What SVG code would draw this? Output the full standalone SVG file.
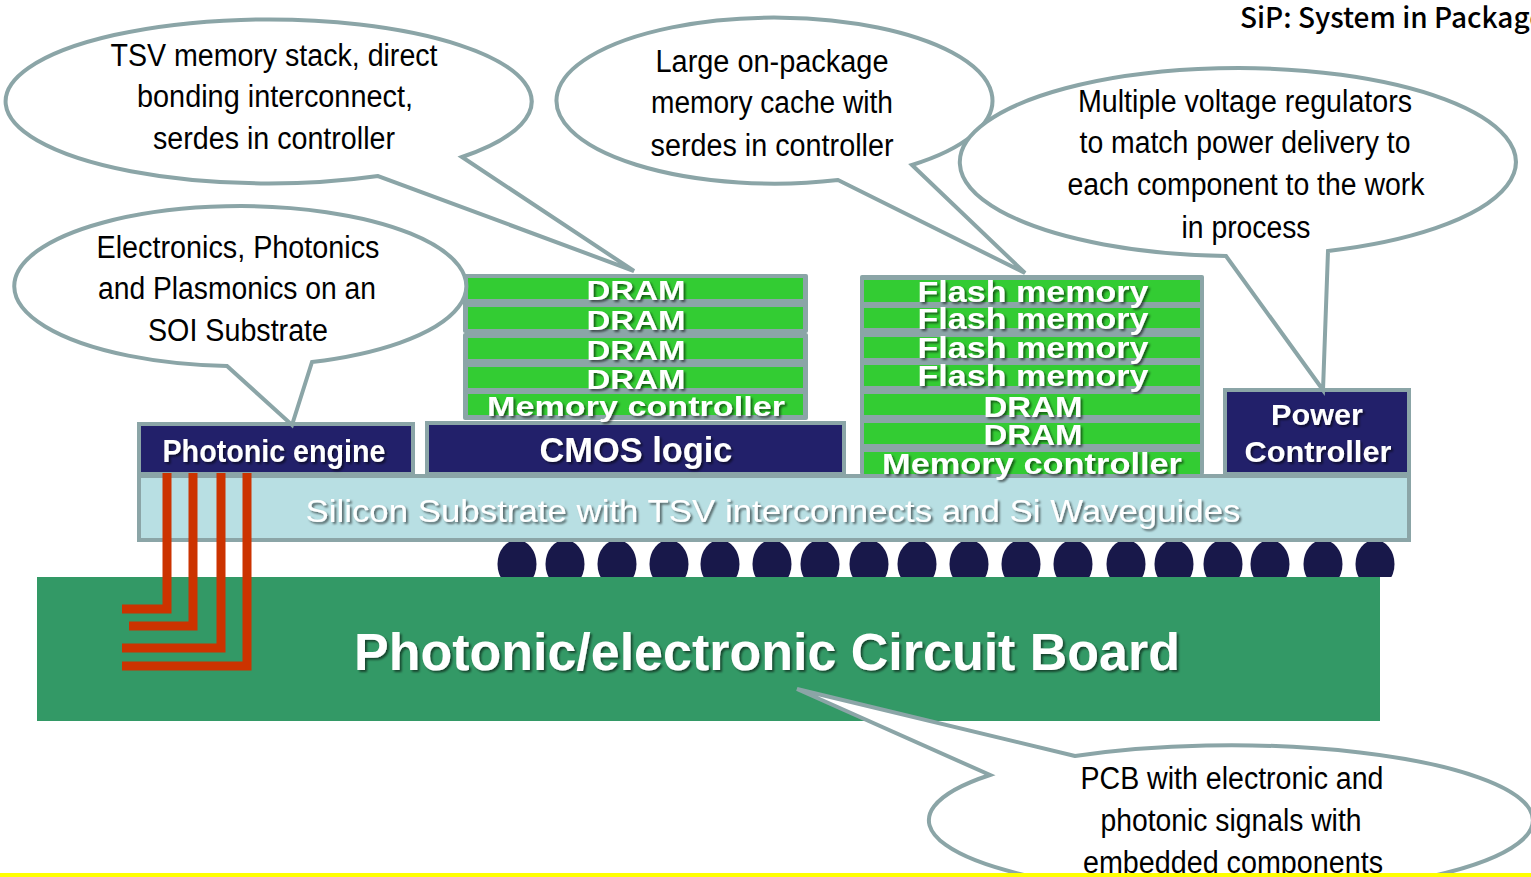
<svg xmlns="http://www.w3.org/2000/svg" width="1531" height="877" viewBox="0 0 1531 877">
<style>
.bub{fill:#fff;stroke:#8BA5A7;stroke-width:4;stroke-linejoin:miter}
.ct{font-family:"Liberation Sans Narrow","Liberation Sans",Arial,sans-serif;font-size:31px;fill:#000;text-anchor:middle}
.wb{font-family:"Liberation Sans",Arial,sans-serif;font-weight:bold;fill:#fff;text-anchor:middle;filter:url(#sh)}
.navy{fill:#22206A;stroke:#8BA5A7;stroke-width:4}
.gbox{fill:#8BA5A7}
.green{fill:#33CC33}
.red{stroke:#CC3300;stroke-width:9;fill:none;stroke-linecap:butt;stroke-linejoin:miter}
.ball{fill:#18184A}
</style>
<defs>
<filter id="sh" x="-5%" y="-30%" width="110%" height="160%">
<feDropShadow dx="2" dy="2" stdDeviation="1.2" flood-color="#000" flood-opacity="0.55"/>
</filter>
<clipPath id="ballclip"><rect x="0" y="538" width="1531" height="39"/></clipPath>
</defs>
<rect width="1531" height="877" fill="#fff"/>

<text x="1240" y="28" font-family="'Noto Sans CJK JP',sans-serif" font-weight="500" font-size="28" textLength="305" lengthAdjust="spacingAndGlyphs" fill="#000">SiP: System in Package</text>

<g id="solder-balls" clip-path="url(#ballclip)">
<ellipse class="ball" cx="517" cy="564" rx="19.5" ry="24"/>
<ellipse class="ball" cx="565" cy="564" rx="19.5" ry="24"/>
<ellipse class="ball" cx="617" cy="564" rx="19.5" ry="24"/>
<ellipse class="ball" cx="669" cy="564" rx="19.5" ry="24"/>
<ellipse class="ball" cx="720" cy="564" rx="19.5" ry="24"/>
<ellipse class="ball" cx="772" cy="564" rx="19.5" ry="24"/>
<ellipse class="ball" cx="820" cy="564" rx="19.5" ry="24"/>
<ellipse class="ball" cx="869" cy="564" rx="19.5" ry="24"/>
<ellipse class="ball" cx="917" cy="564" rx="19.5" ry="24"/>
<ellipse class="ball" cx="969" cy="564" rx="19.5" ry="24"/>
<ellipse class="ball" cx="1021" cy="564" rx="19.5" ry="24"/>
<ellipse class="ball" cx="1073" cy="564" rx="19.5" ry="24"/>
<ellipse class="ball" cx="1126" cy="564" rx="19.5" ry="24"/>
<ellipse class="ball" cx="1174" cy="564" rx="19.5" ry="24"/>
<ellipse class="ball" cx="1223" cy="564" rx="19.5" ry="24"/>
<ellipse class="ball" cx="1270" cy="564" rx="19.5" ry="24"/>
<ellipse class="ball" cx="1323" cy="564" rx="19.5" ry="24"/>
<ellipse class="ball" cx="1375" cy="564" rx="19.5" ry="24"/>
</g>

<g id="board">
<rect x="37" y="577" width="1343" height="144" fill="#339966"/>
<text class="wb" x="767" y="670" font-size="51" textLength="826" lengthAdjust="spacingAndGlyphs">Photonic/electronic Circuit Board</text>
</g>

<g id="substrate">
<rect x="139" y="476" width="1270" height="64" fill="#B8DFE3" stroke="#8BA5A7" stroke-width="4"/>
<text class="wb" x="773" y="522" font-size="32" font-weight="normal" style="font-weight:normal" textLength="935" lengthAdjust="spacingAndGlyphs">Silicon Substrate with TSV interconnects and Si Waveguides</text>
</g>

<g id="photonic-engine">
<rect class="navy" x="139" y="424" width="274" height="50"/>
<text class="wb" x="274" y="462" font-size="31" textLength="223" lengthAdjust="spacingAndGlyphs">Photonic engine</text>
</g>

<g id="cmos-logic">
<rect class="navy" x="427" y="423" width="417" height="51"/>
<text class="wb" x="636" y="462" font-size="35" textLength="193" lengthAdjust="spacingAndGlyphs">CMOS logic</text>
</g>

<g id="dram-stack">
<rect class="gbox" x="463" y="274" width="345" height="59" rx="2"/>
<rect class="gbox" x="463" y="333" width="345" height="87" rx="2"/>
<rect class="green" x="468" y="278" width="335" height="21"/>
<rect class="green" x="468" y="307" width="335" height="22"/>
<rect class="green" x="468" y="338" width="335" height="21"/>
<rect class="green" x="468" y="367" width="335" height="21"/>
<rect class="green" x="468" y="394" width="335" height="21"/>
<text class="wb" x="636" y="300" font-size="27" textLength="99" lengthAdjust="spacingAndGlyphs">DRAM</text>
<text class="wb" x="636" y="330" font-size="27" textLength="99" lengthAdjust="spacingAndGlyphs">DRAM</text>
<text class="wb" x="636" y="360" font-size="27" textLength="99" lengthAdjust="spacingAndGlyphs">DRAM</text>
<text class="wb" x="636" y="389" font-size="27" textLength="99" lengthAdjust="spacingAndGlyphs">DRAM</text>
<text class="wb" x="636" y="416" font-size="27" textLength="298" lengthAdjust="spacingAndGlyphs">Memory controller</text>
</g>

<g id="flash-stack">
<rect class="gbox" x="860" y="275" width="344" height="200" rx="2"/>
<rect class="green" x="864" y="280" width="336" height="22"/>
<rect class="green" x="864" y="308" width="336" height="20"/>
<rect class="green" x="864" y="337" width="336" height="21"/>
<rect class="green" x="864" y="365" width="336" height="21"/>
<rect class="green" x="864" y="394" width="336" height="21"/>
<rect class="green" x="864" y="423" width="336" height="21"/>
<rect class="green" x="864" y="452" width="336" height="22"/>
<text class="wb" x="1033" y="302" font-size="29" textLength="231" lengthAdjust="spacingAndGlyphs">Flash memory</text>
<text class="wb" x="1033" y="329" font-size="29" textLength="231" lengthAdjust="spacingAndGlyphs">Flash memory</text>
<text class="wb" x="1033" y="358" font-size="29" textLength="231" lengthAdjust="spacingAndGlyphs">Flash memory</text>
<text class="wb" x="1033" y="386" font-size="29" textLength="231" lengthAdjust="spacingAndGlyphs">Flash memory</text>
<text class="wb" x="1033" y="417" font-size="29" textLength="99" lengthAdjust="spacingAndGlyphs">DRAM</text>
<text class="wb" x="1033" y="445" font-size="29" textLength="99" lengthAdjust="spacingAndGlyphs">DRAM</text>
<text class="wb" x="1032" y="474" font-size="29" textLength="300" lengthAdjust="spacingAndGlyphs">Memory controller</text>
</g>

<g id="power-controller">
<rect class="navy" x="1225" y="390" width="184" height="84"/>
<text class="wb" x="1317" y="425" font-size="30" textLength="92" lengthAdjust="spacingAndGlyphs">Power</text>
<text class="wb" x="1318" y="462" font-size="30" textLength="147" lengthAdjust="spacingAndGlyphs">Controller</text>
</g>

<g id="connectors">
<path class="red" d="M167,473 V609 H122"/>
<path class="red" d="M193,473 V626 H129"/>
<path class="red" d="M221,473 V648 H122"/>
<path class="red" d="M247,473 V666 H122"/>
</g>

<g id="callout-tsv">
<path class="bub" d="M462,157 L634,271 L378,176 A263 82 0 1 1 462,157 Z"/>
<text class="ct" x="274" y="66" textLength="327" lengthAdjust="spacingAndGlyphs">TSV memory stack, direct</text>
<text class="ct" x="275" y="107" textLength="276" lengthAdjust="spacingAndGlyphs">bonding interconnect,</text>
<text class="ct" x="274" y="149" textLength="242" lengthAdjust="spacingAndGlyphs">serdes in controller</text>
</g>

<g id="callout-cache">
<path class="bub" d="M912,165 L1025,273 L838,180 A218 83 0 1 1 912,165 Z"/>
<text class="ct" x="772" y="72" textLength="233" lengthAdjust="spacingAndGlyphs">Large on-package</text>
<text class="ct" x="772" y="113" textLength="242" lengthAdjust="spacingAndGlyphs">memory cache with</text>
<text class="ct" x="772" y="156" textLength="243" lengthAdjust="spacingAndGlyphs">serdes in controller</text>
</g>

<g id="callout-power">
<path class="bub" d="M1328,251 L1323,390 L1226,256 A278 94 0 1 1 1328,251 Z"/>
<text class="ct" x="1245" y="112" textLength="334" lengthAdjust="spacingAndGlyphs">Multiple voltage regulators</text>
<text class="ct" x="1245" y="153" textLength="331" lengthAdjust="spacingAndGlyphs">to match power delivery to</text>
<text class="ct" x="1246" y="195" textLength="357" lengthAdjust="spacingAndGlyphs">each component to the work</text>
<text class="ct" x="1246" y="238" textLength="129" lengthAdjust="spacingAndGlyphs">in process</text>
</g>

<g id="callout-soi">
<path class="bub" d="M312,362 L292,425 L227,366 A226 80 0 1 1 312,362 Z"/>
<text class="ct" x="238" y="258" textLength="283" lengthAdjust="spacingAndGlyphs">Electronics, Photonics</text>
<text class="ct" x="237" y="299" textLength="278" lengthAdjust="spacingAndGlyphs">and Plasmonics on an</text>
<text class="ct" x="238" y="341" textLength="180" lengthAdjust="spacingAndGlyphs">SOI Substrate</text>
</g>

<g id="callout-pcb">
<path class="bub" d="M1075,756 L797,689 L990,775 A302 75 0 1 0 1075,756 Z"/>
<text class="ct" x="1232" y="789" textLength="303" lengthAdjust="spacingAndGlyphs">PCB with electronic and</text>
<text class="ct" x="1231" y="831" textLength="261" lengthAdjust="spacingAndGlyphs">photonic signals with</text>
<text class="ct" x="1233" y="873" textLength="300" lengthAdjust="spacingAndGlyphs">embedded components</text>
</g>

<rect x="0" y="873" width="1531" height="4" fill="#FFFF00"/>
</svg>
